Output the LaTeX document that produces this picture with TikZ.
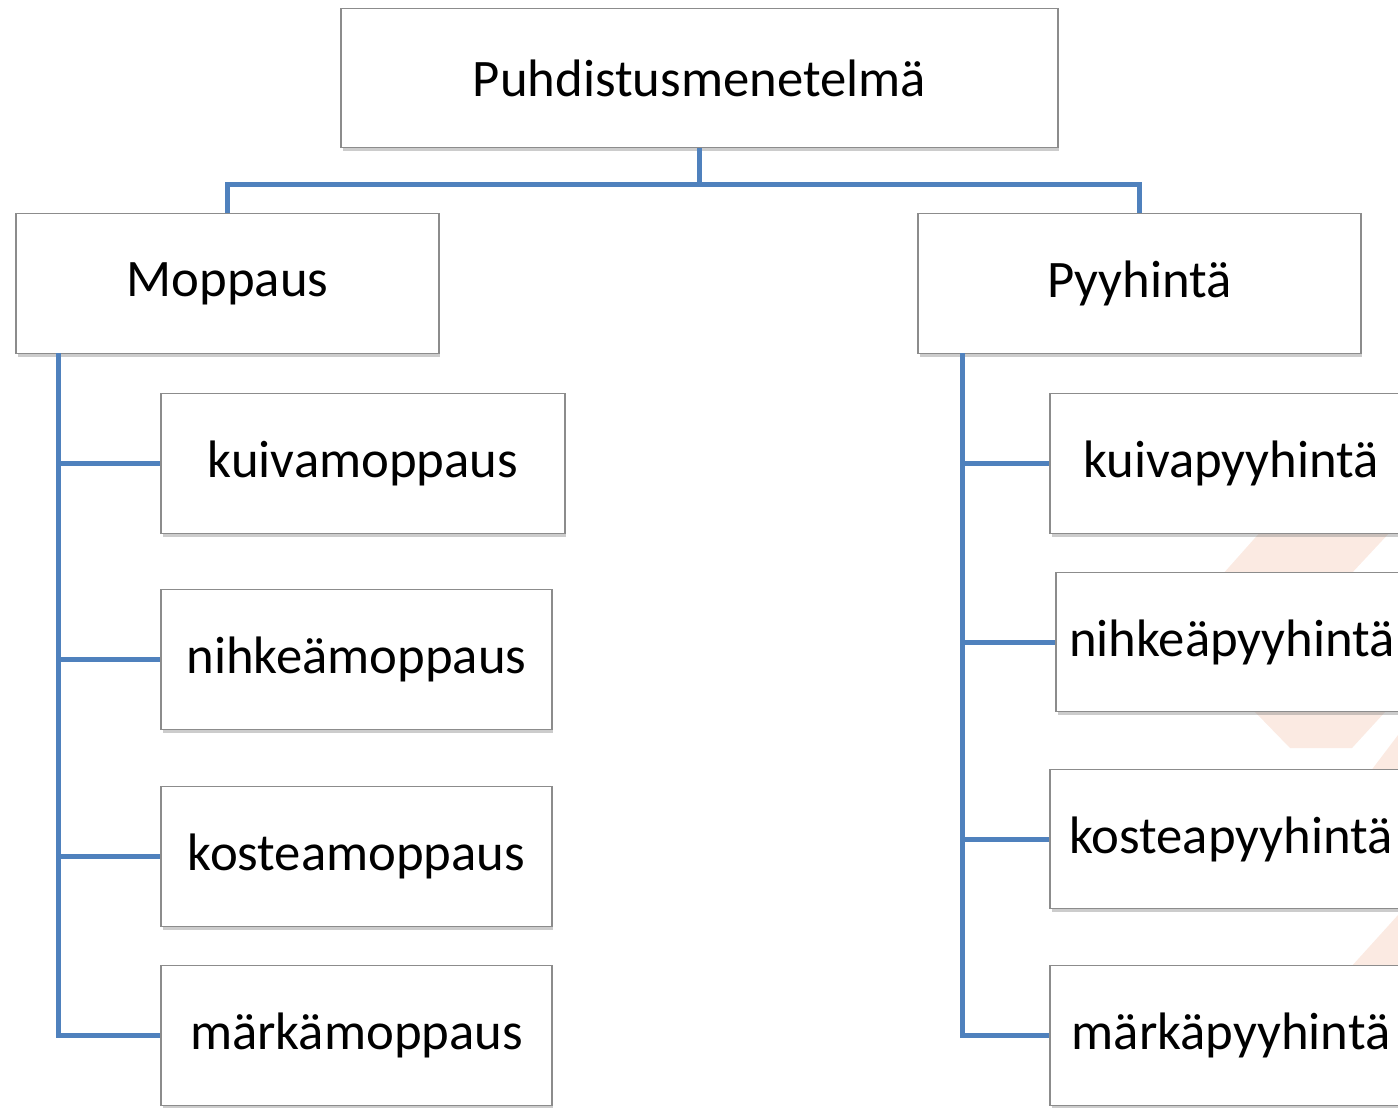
\documentclass[tikz,border=0pt]{standalone}
\usepackage{fontspec}
\setmainfont{Carlito}
\usepackage{tikz}
\usetikzlibrary{shadows}
\definecolor{linkblue}{RGB}{79,129,189}
\definecolor{boxgray}{RGB}{140,140,140}
\definecolor{wmark}{RGB}{251,234,226}

\begin{document}
\begin{tikzpicture}[x=0.02cm,y=-0.02cm]
\tikzstyle{every node}+=[inner sep=0pt]
\tikzstyle{box}=[draw=boxgray,line width=0.8pt,fill=white,minimum height=2.79cm,
  font=\fontsize{30}{36}\selectfont,
  drop shadow={shadow xshift=0.03cm,shadow yshift=-0.07cm,opacity=0.4}]
\tikzstyle{conn}=[linkblue,line width=0.1cm]
\useasboundingbox (0,0) rectangle (1398,1107);
\clip (0,0) rectangle (1398,1107);
% faint background marks
\fill [wmark] (1222,575) -- (1262,530) -- (1392,530) -- (1350,575) -- cycle;
\fill [wmark] (1255,712) -- (1290,748) -- (1352,748) -- (1385,712) -- cycle;
\fill [wmark] (1370,772) -- (1398,735) -- (1398,772) -- cycle;
\fill [wmark] (1350,968) -- (1398,915) -- (1398,968) -- cycle;
% boxes
\node [box,minimum width=14.34cm] (method) at (699.5,78) {Puhdistusmenetelmä};
\node [box,minimum width=8.46cm] (mop) at (227.5,283.5) {Moppaus};
\node [box,minimum width=8.86cm] (wipe) at (1139.5,283.5) {Pyyhintä};
\node [box,minimum width=8.08cm] (mop1) at (363,463.5) {kuivamoppaus};
\node [box,minimum width=7.82cm] (mop2) at (356.5,659.5) {nihkeämoppaus};
\node [box,minimum width=7.82cm] (mop3) at (356.5,856.5) {kosteamoppaus};
\node [box,minimum width=7.82cm] (mop4) at (356.5,1035.5) {märkämoppaus};
\node [box,minimum width=7.24cm] (wipe1) at (1231,463.5) {kuivapyyhintä};
\node [box,minimum width=7.04cm] (wipe2) at (1232,642) {nihkeäpyyhintä};
\node [box,minimum width=7.24cm] (wipe3) at (1231,839) {kosteapyyhintä};
\node [box,minimum width=7.24cm] (wipe4) at (1231,1035.5) {märkäpyyhintä};
% connectors
\coordinate (split) at (699.5,184);
\draw [conn] (method.south) -- (split);
\draw [conn] (split) -| (mop.north);
\draw [conn] (split) -| (wipe.north);
\coordinate (moptrunk) at (58,353);
\coordinate (wipetrunk) at (962,353);
\draw [conn,line join=miter] (moptrunk) |- (mop4.west);
\draw [conn] (moptrunk |- mop1.west) -- (mop1.west);
\draw [conn] (moptrunk |- mop2.west) -- (mop2.west);
\draw [conn] (moptrunk |- mop3.west) -- (mop3.west);
\draw [conn,line join=miter] (wipetrunk) |- (wipe4.west);
\draw [conn] (wipetrunk |- wipe1.west) -- (wipe1.west);
\draw [conn] (wipetrunk |- wipe2.west) -- (wipe2.west);
\draw [conn] (wipetrunk |- wipe3.west) -- (wipe3.west);
\end{tikzpicture}
\end{document}
